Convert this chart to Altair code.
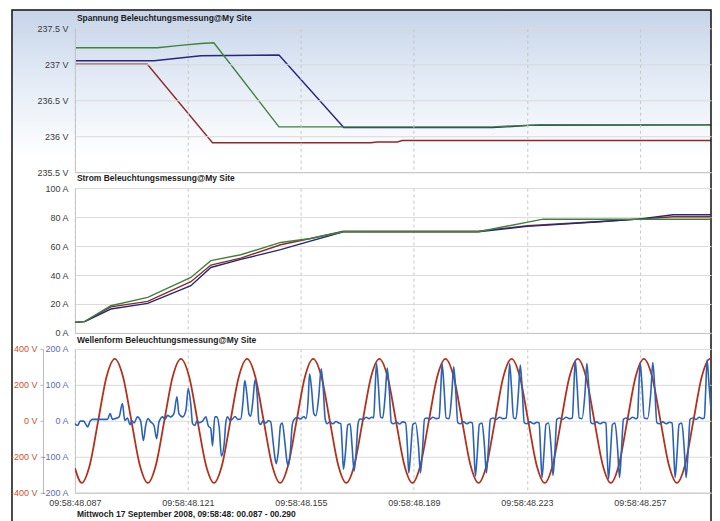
import altair as alt
import pandas as pd

# ---------------- data (time in ms after 09:58:48) ----------------
T_START, T_END = 87.0, 278.4
TIME_TICKS = [87, 121, 155, 189, 223, 257]

# Spannung (V)
SP_GREEN_T = [87.0, 111.8, 118.0, 124.9, 128.8, 148.4, 212.6, 227.0, 278.4]
SP_GREEN_V = [237.23, 237.23, 237.26, 237.29, 237.30, 236.13, 236.13, 236.16, 236.16]
SP_BLUE_T = [87.0, 110.8, 124.9, 148.4, 167.9, 212.6, 224.0, 278.4]
SP_BLUE_V = [237.05, 237.05, 237.12, 237.13, 236.12, 236.12, 236.15, 236.16]
SP_RED_T = [87.0, 108.8, 128.4, 176.0, 178.0, 184.0, 185.5, 278.4]
SP_RED_V = [237.0, 237.0, 235.91, 235.91, 235.92, 235.92, 235.94, 235.94]
SP_TICKS = [235.5, 236, 236.5, 237, 237.5]

# Strom (A)
ST_GREEN_T = [87.0, 90.0, 97.8, 108.9, 121.9, 127.9, 136.9, 148.9, 157.9, 167.8, 208.4, 227.9, 278.4]
ST_GREEN_A = [7.3, 8.0, 18.8, 24.6, 38.3, 49.9, 54.0, 62.5, 65.2, 69.9, 69.9, 78.6, 78.5]
ST_RED_T = [87.0, 90.0, 97.8, 108.9, 121.9, 127.9, 136.9, 148.9, 157.9, 167.8, 208.4, 223.1, 245.0, 256.5, 267.0, 278.4]
ST_RED_A = [7.3, 8.0, 18.0, 21.8, 35.4, 46.9, 51.7, 60.9, 65.2, 70.3, 70.3, 74.0, 77.0, 78.6, 80.2, 80.2]
ST_BLUE_T = [87.0, 90.0, 97.8, 108.9, 121.9, 127.9, 136.9, 148.9, 154.9, 167.8, 208.4, 223.1, 245.0, 256.5, 267.0, 278.4]
ST_BLUE_A = [7.3, 7.8, 16.5, 20.4, 32.6, 45.2, 50.8, 57.5, 61.5, 69.9, 69.9, 73.6, 76.8, 78.6, 81.6, 81.6]
ST_TICKS = [0, 20, 40, 60, 80, 100]

# Wellenform: voltage (V)
WAVE_V = [
    (87.0, -262), (89.05, -345), (91.5, -244), (94.0, 0), (96.5, 244), (99.0, 345), (101.5, 244),
    (104.0, 0), (106.5, -244), (108.95, -345), (111.4, -244), (113.9, 0), (116.4, 244), (118.9, 345),
    (121.4, 244), (123.9, 0), (126.4, -244), (128.85, -345), (131.3, -244), (133.8, 0), (136.3, 244),
    (138.8, 345), (141.3, 244), (143.8, 0), (146.3, -244), (148.75, -345), (151.2, -244), (153.7, 0),
    (156.2, 244), (158.7, 345), (161.2, 244), (163.7, 0), (166.2, -244), (168.65, -345), (171.1, -244),
    (173.6, 0), (176.1, 244), (178.6, 345), (181.1, 244), (183.6, 0), (186.1, -244), (188.55, -345),
    (191.0, -244), (193.5, 0), (196.0, 244), (198.5, 345), (201.0, 244), (203.5, 0), (206.0, -244),
    (208.45, -345), (210.9, -244), (213.4, 0), (215.9, 244), (218.4, 345), (220.9, 244), (223.4, 0),
    (225.9, -244), (228.35, -345), (230.8, -244), (233.3, 0), (235.8, 244), (238.3, 345), (240.8, 244),
    (243.3, 0), (245.8, -244), (248.25, -345), (250.7, -244), (253.2, 0), (255.7, 244), (258.2, 345),
    (260.7, 244), (263.2, 0), (265.7, -244), (268.15, -345), (270.6, -244), (273.1, 0), (275.6, 244),
    (278.1, 345), (278.4, 344),
]

# Wellenform: current (A)
WAVE_I = [
    (87.0, -8), (87.8, -13), (88.6, -1), (89.6, -1), (90.3, -10), (90.8, -17), (91.6, -1), (92.3, 4),
    (96.8, 4), (97.6, 20), (98.3, 4), (99.1, 6), (100.3, 11), (101.3, 48), (102.0, 1), (102.8, 8),
    (103.6, -11), (104.1, 1), (104.8, -6), (105.8, 11), (106.8, -1), (107.6, -55), (108.3, -13),
    (109.0, 6), (109.8, -3), (110.8, -13), (111.6, -50), (112.3, -3), (113.4, 11), (114.1, 4),
    (114.9, 15), (115.8, 11), (116.8, 20), (117.7, 67), (118.3, 20), (119.4, 11), (120.4, 29),
    (121.1, 90), (121.9, 43), (122.4, -8), (123.1, -13), (123.7, -1), (124.4, -5), (125.4, -1),
    (126.4, 11), (127.1, -13), (127.9, -22), (128.4, -70), (129.1, 11), (129.7, 11), (130.4, -17),
    (131.1, -98), (131.9, -66), (132.4, -6), (132.9, 11), (133.7, 1), (134.4, 5), (135.2, 12),
    (136.0, 4), (136.9, 5),
    (137.6, 55), (138.1, 112), (138.7, 78), (139.4, 18), (139.9, 13), (140.6, 60), (141.2, 114),
    (141.8, 78), (142.4, -6), (142.9, -10), (143.6, 0), (144.4, -6), (145.2, 0), (145.9, -3),
    (146.6, -56), (147.2, -103), (147.6, -119), (148.2, -86), (148.9, -11), (149.4, -6), (150.2, -62),
    (150.8, -113), (151.2, -125), (151.8, -89), (152.4, -11), (152.9, 3), (153.9, 9), (154.9, 5),
    (155.9, 12), (156.5, 6),
    (157.2, 60), (157.6, 131), (158.2, 90), (158.9, 20), (159.5, 14), (160.4, 70), (161.1, 145),
    (161.7, 95), (162.3, 5), (162.9, -8), (163.7, -3), (164.6, -8), (165.6, -2), (166.4, -6),
    (167.0, -8), (167.4, -65), (167.8, -135), (168.4, -90), (169.1, -12), (169.8, -8), (170.4, -70),
    (171.0, -140), (171.6, -90), (172.2, -8), (172.8, 5), (173.7, 3), (174.6, 10), (175.5, 6),
    (176.3, 10),
    (176.9, 8), (177.3, 80), (177.75, 159), (178.3, 100), (179.0, 10), (179.6, 8), (180.4, 75),
    (180.97, 147), (181.6, 85), (182.2, -5), (182.9, -8), (183.8, -4), (184.7, -9), (185.6, -3),
    (186.5, -6),
    (187.05, -72), (187.46, -145), (188.0, -90), (188.7, -10), (189.5, -6), (190.4, -72),
    (190.97, -145), (191.6, -80), (192.2, 5), (192.9, 8), (193.8, 4), (194.7, 10), (195.7, 6),
    (196.6, 8),
    (197.05, 80), (197.49, 159), (198.05, 95), (198.7, 8), (199.6, 6), (200.4, 75), (200.98, 150),
    (201.6, 82), (202.2, -5), (203.0, -8), (204.0, -3), (204.9, -8), (205.9, -4), (206.6, -6),
    (207.05, -75), (207.5, -154), (208.05, -95), (208.7, -10), (209.5, -6), (210.25, -72),
    (210.81, -145), (211.4, -80), (212.0, 4), (212.8, 8), (213.8, 4), (214.8, 10), (215.8, 6),
    (216.8, 8),
    (217.35, 80), (217.81, 159), (218.35, 95), (219.0, 8), (219.7, 6), (220.45, 78), (221.02, 155),
    (221.6, 85), (222.2, -5), (223.0, -8), (224.0, -3), (225.0, -8), (226.0, -4), (226.7, -6),
    (227.1, -78), (227.54, -158), (228.1, -95), (228.75, -10), (229.5, -6), (230.3, -75),
    (230.85, -152), (231.45, -82), (232.0, 4), (232.8, 8), (233.8, 4), (234.8, 10), (235.8, 6),
    (236.7, 8),
    (237.1, 85), (237.55, 168), (238.1, 100), (238.75, 8), (239.6, 6), (240.5, 80), (241.06, 159),
    (241.65, 88), (242.25, -5), (243.0, -8), (244.0, -3), (245.0, -8), (246.0, -4), (246.8, -6),
    (247.1, -80), (247.56, -162), (248.1, -98), (248.75, -10), (249.5, -6), (250.3, -78),
    (250.87, -158), (251.45, -85), (252.05, 4), (252.8, 8), (253.8, 4), (254.8, 10), (255.8, 6),
    (256.3, 8),
    (256.65, 82), (257.08, 162), (257.65, 98), (258.3, 8), (259.3, 6), (260.3, 80), (260.89, 162),
    (261.5, 88), (262.1, -5), (262.9, -8), (263.9, -3), (264.9, -8), (265.9, -4), (266.7, -6),
    (267.15, -78), (267.6, -158), (268.15, -96), (268.8, -10), (269.6, -6), (270.35, -78),
    (270.91, -158), (271.5, -85), (272.1, 4), (272.9, 8), (273.9, 4), (274.9, 10), (275.8, 6),
    (276.4, 8),
    (276.8, 85), (277.22, 170), (277.8, 100), (278.4, 30),
]
WV_TICKS = [-400, -200, 0, 200, 400]
WI_TICKS = [-200, -100, 0, 100, 200]

TITLE_1 = "Spannung Beleuchtungsmessung@My Site"
TITLE_2 = "Strom Beleuchtungsmessung@My Site"
TITLE_3 = "Wellenform Beleuchtungsmessung@My Site"
FOOTER = "Mittwoch 17 September 2008, 09:58:48: 00.087 - 00.290"

# ---------------- styling ----------------
W = 637
FONT = "Liberation Sans Narrow, Arial Narrow, Liberation Sans, sans-serif"
C_GREEN, C_BLUE, C_RED = "#3f823c", "#25287c", "#8f2a2a"
C_WV, C_WI = "#b3321d", "#2b62b6"
LBL = "#3a3a3a"
LFS = 9

one = alt.Data(values=[{"k": 1}])
xscale = alt.Scale(domain=[T_START, T_END], nice=False, zero=False)


def x_axis(labels=False, z=0):
    kw = dict(values=TIME_TICKS, title=None, ticks=False, grid=True, gridDash=[3, 3],
              gridColor="#c6c6c6", domain=True, domainColor="#c4c4c4", zindex=z)
    if labels:
        kw.update(labels=True,
                  labelExpr="'09:58:48.' + (datum.value < 100 ? '0' : '') + datum.value",
                  labelFlush=False, labelOverlap=False, labelPadding=6, labelFontSize=LFS,
                  labelColor=LBL, labelFont=FONT)
    else:
        kw.update(labels=False)
    return alt.Axis(**kw)


def y_axis(vals, unit, z=0, **extra):
    kw = dict(values=vals, title=None, ticks=False, labelExpr="datum.value + ' " + unit + "'",
              labelPadding=7, labelFontSize=LFS, labelColor=LBL, labelFont=FONT,
              grid=True, gridColor="#dadada", domain=True, domainColor="#c4c4c4", zindex=z)
    kw.update(extra)
    return alt.Axis(**kw)


def title_text(txt, y):
    return alt.Chart(one).mark_text(align="left", baseline="middle", fontSize=8.5,
                                    fontWeight="bold", font=FONT, color="#1c1c1c").encode(
        x=alt.value(2), y=alt.value(y), text=alt.value(txt))


def line(t, v, color, ydef, xdef, width=1.4):
    df = pd.DataFrame({"t": t, "v": v})
    return alt.Chart(df).mark_line(color=color, strokeWidth=width, clip=True).encode(
        x=xdef, y=ydef)


# ---------------- panel 1: Spannung ----------------
y1 = alt.Y("v:Q", scale=alt.Scale(domain=[235.5, 237.5], nice=False, zero=False),
           axis=y_axis(SP_TICKS, "V", z=1))
x1 = alt.X("t:Q", scale=xscale, axis=x_axis(False, z=1))

grad = alt.Chart(one).mark_rect(
    fill=alt.LinearGradient(gradient="linear",
                            stops=[alt.GradientStop(color="#c6d4e9", offset=0),
                                   alt.GradientStop(color="#e2eaf5", offset=0.45),
                                   alt.GradientStop(color="#ffffff", offset=1)],
                            x1=0, x2=0, y1=0, y2=1)).encode(
    x=alt.value(-63), x2=alt.value(W), y=alt.value(-18.5), y2=alt.value(130))

frame = alt.Chart(one).mark_rect(fillOpacity=0, stroke="#111111", strokeWidth=1.5).encode(
    x=alt.value(-63), x2=alt.value(W), y=alt.value(-18.5), y2=alt.value(530))

p1 = alt.layer(
    grad,
    line(SP_RED_T, SP_RED_V, C_RED, y1, x1),
    line(SP_BLUE_T, SP_BLUE_V, C_BLUE, y1, x1),
    line(SP_GREEN_T, SP_GREEN_V, C_GREEN, y1, x1),
    frame,
    title_text(TITLE_1, -10),
).properties(width=W, height=144)

# ---------------- panel 2: Strom ----------------
y2 = alt.Y("v:Q", scale=alt.Scale(domain=[0, 100], nice=False), axis=y_axis(ST_TICKS, "A"))
x2 = alt.X("t:Q", scale=xscale, axis=x_axis(False))
p2 = alt.layer(
    line(ST_RED_T, ST_RED_A, C_RED, y2, x2),
    line(ST_BLUE_T, ST_BLUE_A, C_BLUE, y2, x2),
    line(ST_GREEN_T, ST_GREEN_A, C_GREEN, y2, x2),
    title_text(TITLE_2, -10),
).properties(width=W, height=145)

# ---------------- panel 3: Wellenform ----------------
x3 = alt.X("t:Q", scale=xscale, axis=x_axis(True))
yv = alt.Y("v:Q", scale=alt.Scale(domain=[-400, 400], nice=False),
           axis=y_axis(WV_TICKS, "V", orient="left", offset=32, grid=False, ticks=True,
                       tickSize=3, tickColor="#b8b8b8", labelPadding=3,
                       labelColor="#c9512c", domainColor="#b8b8b8"))
yi = alt.Y("v:Q", scale=alt.Scale(domain=[-200, 200], nice=False),
           axis=y_axis(WI_TICKS, "A", orient="left", labelColor="#5a6db6"))

wv = pd.DataFrame(WAVE_V, columns=["t", "v"])
wi = pd.DataFrame(WAVE_I, columns=["t", "v"])

volt = alt.Chart(wv).mark_line(color=C_WV, strokeWidth=1.8, interpolate="monotone",
                               clip=True).encode(x=x3, y=yv)
curr = alt.Chart(wi).mark_line(color=C_WI, strokeWidth=1.6, interpolate="monotone",
                               clip=True).encode(x=x3, y=yi)

footer = alt.Chart(one).mark_text(align="left", baseline="top", fontSize=8.5, fontWeight="bold",
                                  font=FONT, color="#222222").encode(
    x=alt.value(2), y=alt.value(161), text=alt.value(FOOTER))

p3 = alt.layer(volt, curr, title_text(TITLE_3, -9), footer).resolve_scale(
    y="independent").properties(width=W, height=144)

chart = alt.vconcat(p1, p2, p3, spacing=16, bounds="flush").properties(
    padding={"left": 2, "top": 0, "right": 0, "bottom": 0},
    background="white",
).configure_view(strokeWidth=0)

chart.save("out.html", embed_options={"renderer": "svg", "actions": False})
